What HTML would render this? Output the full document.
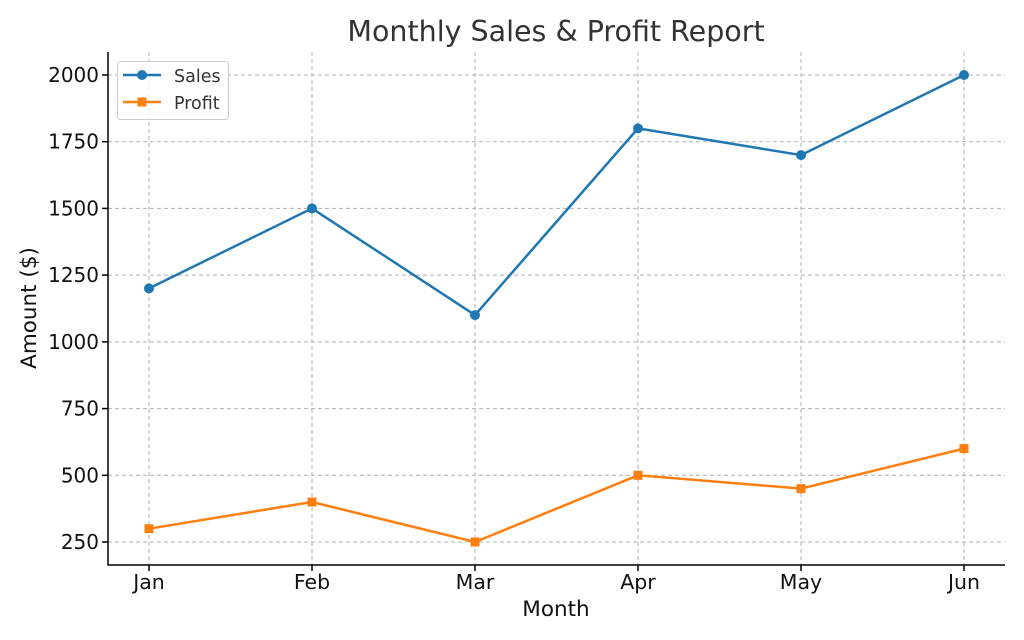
<!DOCTYPE html>
<html><head><style>body{margin:0;background:#fff}svg{display:block}</style></head><body>
<svg width="1024" height="640" xmlns="http://www.w3.org/2000/svg" font-family="DejaVu Sans, Liberation Sans, sans-serif">
<rect width="1024" height="640" fill="#fff"/>
<g stroke="#b0b0b0" stroke-dasharray="4,3" stroke-width="1">
<line x1="149" y1="52" x2="149" y2="565"/><line x1="312" y1="52" x2="312" y2="565"/><line x1="475" y1="52" x2="475" y2="565"/><line x1="638" y1="52" x2="638" y2="565"/><line x1="801" y1="52" x2="801" y2="565"/><line x1="964" y1="52" x2="964" y2="565"/>
<line x1="108" y1="75" x2="1005" y2="75"/><line x1="108" y1="141.7" x2="1005" y2="141.7"/><line x1="108" y1="208.4" x2="1005" y2="208.4"/><line x1="108" y1="275.1" x2="1005" y2="275.1"/><line x1="108" y1="341.9" x2="1005" y2="341.9"/><line x1="108" y1="408.6" x2="1005" y2="408.6"/><line x1="108" y1="475.3" x2="1005" y2="475.3"/><line x1="108" y1="542" x2="1005" y2="542"/>
</g>
<g stroke="#000" stroke-width="1.5">
<line x1="108" y1="52" x2="108" y2="565.5"/><line x1="107.5" y1="565" x2="1005" y2="565"/>
<line x1="102" y1="75" x2="108" y2="75"/><line x1="102" y1="141.7" x2="108" y2="141.7"/><line x1="102" y1="208.4" x2="108" y2="208.4"/><line x1="102" y1="275.1" x2="108" y2="275.1"/><line x1="102" y1="341.9" x2="108" y2="341.9"/><line x1="102" y1="408.6" x2="108" y2="408.6"/><line x1="102" y1="475.3" x2="108" y2="475.3"/><line x1="102" y1="542" x2="108" y2="542"/>
<line x1="149" y1="565" x2="149" y2="571"/><line x1="312" y1="565" x2="312" y2="571"/><line x1="475" y1="565" x2="475" y2="571"/><line x1="638" y1="565" x2="638" y2="571"/><line x1="801" y1="565" x2="801" y2="571"/><line x1="964" y1="565" x2="964" y2="571"/>
</g>
<g font-size="20" fill="#111" text-anchor="end">
<text x="99" y="82">2000</text><text x="99" y="148.7">1750</text><text x="99" y="215.4">1500</text><text x="99" y="282.1">1250</text><text x="99" y="348.9">1000</text><text x="99" y="415.6">750</text><text x="99" y="482.3">500</text><text x="99" y="549">250</text>
</g>
<g font-size="20.5" fill="#111" text-anchor="middle">
<text x="149" y="589">Jan</text><text x="312" y="589">Feb</text><text x="475" y="589">Mar</text><text x="638" y="589">Apr</text><text x="801" y="589">May</text><text x="964" y="589">Jun</text>
<text x="556" y="616" font-size="21.5">Month</text>
<text x="556" y="41" font-size="28.5" fill="#333">Monthly Sales &amp; Profit Report</text>
<text transform="translate(36,308) rotate(-90)" font-size="21.5">Amount ($)</text>
</g>
<polyline fill="none" stroke="#1f77b4" stroke-width="2.5" points="149,288.4 312,208.4 475,315.1 638,128.4 801,155.1 964,75"/>
<g fill="#1f77b4"><circle cx="149" cy="288.4" r="5"/><circle cx="312" cy="208.4" r="5"/><circle cx="475" cy="315.1" r="5"/><circle cx="638" cy="128.4" r="5"/><circle cx="801" cy="155.1" r="5"/><circle cx="964" cy="75" r="5"/></g>
<polyline fill="none" stroke="#ff7f0e" stroke-width="2.5" points="149,528.7 312,502 475,542 638,475.3 801,488.6 964,448.6"/>
<g fill="#ff7f0e"><rect x="144.5" y="524.2" width="9" height="9"/><rect x="307.5" y="497.5" width="9" height="9"/><rect x="470.5" y="537.5" width="9" height="9"/><rect x="633.5" y="470.8" width="9" height="9"/><rect x="796.5" y="484.1" width="9" height="9"/><rect x="959.5" y="444.1" width="9" height="9"/></g>
<rect x="117.5" y="61.5" width="111" height="58" rx="3" fill="#fff" fill-opacity="0.8" stroke="#ccc"/>
<line x1="123" y1="75" x2="161" y2="75" stroke="#1f77b4" stroke-width="2.5"/><circle cx="142" cy="75" r="5" fill="#1f77b4"/>
<line x1="123" y1="102" x2="161" y2="102" stroke="#ff7f0e" stroke-width="2.5"/><rect x="137.5" y="97.5" width="9" height="9" fill="#ff7f0e"/>
<text x="174" y="82" font-size="17.5" fill="#333">Sales</text>
<text x="174" y="109" font-size="17.5" fill="#333">Profit</text>
</svg>
</body></html>
